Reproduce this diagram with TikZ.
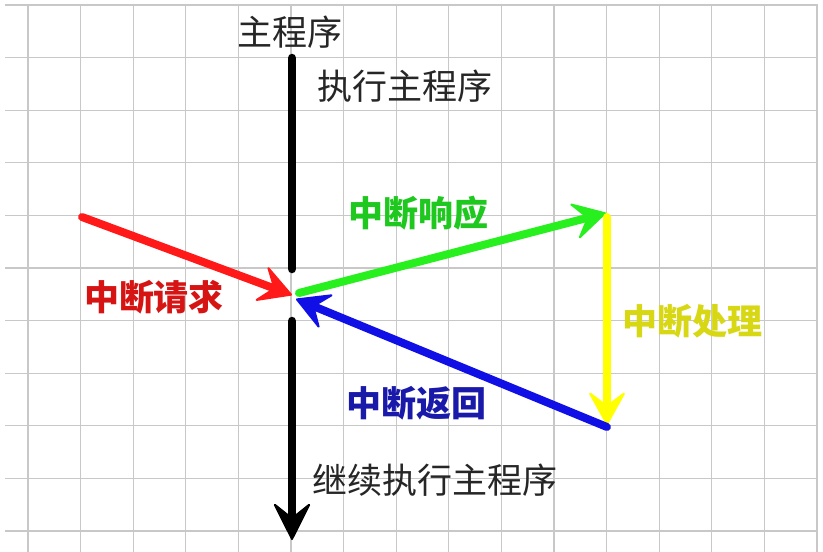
\documentclass[tikz,border=0pt]{standalone}
\usepackage{fontspec}
\newfontfamily\cjk{Noto Sans CJK SC}
\usetikzlibrary{arrows.meta}
\definecolor{gridc}{RGB}{200,200,200}
\definecolor{redarr}{RGB}{255,25,25}
\definecolor{redtxt}{RGB}{215,20,20}
\definecolor{greenarr}{RGB}{40,240,30}
\definecolor{greentxt}{RGB}{30,200,30}
\definecolor{yelarr}{RGB}{255,255,0}
\definecolor{yeltxt}{RGB}{215,215,20}
\definecolor{bluearr}{RGB}{15,15,230}
\definecolor{bluetxt}{RGB}{25,25,170}
\tikzset{
  gridline/.style={draw=gridc, line width=1.3pt},
  flow/.style={line width=8pt, line cap=round, -{Stealth[length=36pt,width=40pt,inset=15pt,line width=2pt,round]}},
  mainline/.style={line width=8.5pt, line cap=round},
  plain/.style={font=\cjk\fontsize{35}{35}\selectfont, inner sep=0pt, text=black!85},
  lbl/.style={font=\cjk\bfseries\fontsize{35}{35}\selectfont, inner sep=0pt}
}
\begin{document}
\begin{tikzpicture}[x=1pt,y=-1pt]
\useasboundingbox[fill=white] (0,0) rectangle (823,552);
% grid
\foreach \i in {0,...,15} \draw[gridline] (28+52.6*\i,5) -- (28+52.6*\i,552);
\foreach \j in {0,...,10} \draw[gridline] (5,5+52.6*\j) -- (818,5+52.6*\j);
% key points
\coordinate (mainTop) at (292,58);
\coordinate (mainStop) at (292,269);
\coordinate (resume) at (292,321);
\coordinate (mainEnd) at (292,540);
\coordinate (req) at (82,217);
\coordinate (hit) at (292,295);
\coordinate (greenStart) at (299,293);
\coordinate (resp) at (606,213);
\coordinate (yelStart) at (607,217);
\coordinate (yelEnd) at (607,425);
\coordinate (ret) at (607,427);
\coordinate (back) at (296,299);
% main program line
\draw[mainline] (mainTop) -- (mainStop);
\draw[mainline, -{Stealth[length=40pt,width=40pt,inset=16pt,line width=2pt,round]}] (resume) -- (mainEnd);
% arrows
\draw[flow, draw=redarr, fill=redarr] (req) -- (hit);
\draw[flow, draw=greenarr, fill=greenarr] (greenStart) -- (resp);
\draw[flow, draw=yelarr, fill=yelarr] (yelStart) -- (yelEnd);
\draw[flow, draw=bluearr, fill=bluearr] (ret) -- (back);
% labels
\node[plain] (tMain) at (290,32) {主程序};
\node[plain] (tExec) at (405,86) {执行主程序};
\node[lbl, text=greentxt] (tResp) at (418,213) {中断响应};
\node[lbl, text=redtxt] (tReq) at (154,297) {中断请求};
\node[lbl, text=yeltxt] (tProc) at (692,321) {中断处理};
\node[lbl, text=bluetxt] (tRet) at (416,403) {中断返回};
\node[plain] (tCont) at (435,480) {继续执行主程序};
\end{tikzpicture}
\end{document}
